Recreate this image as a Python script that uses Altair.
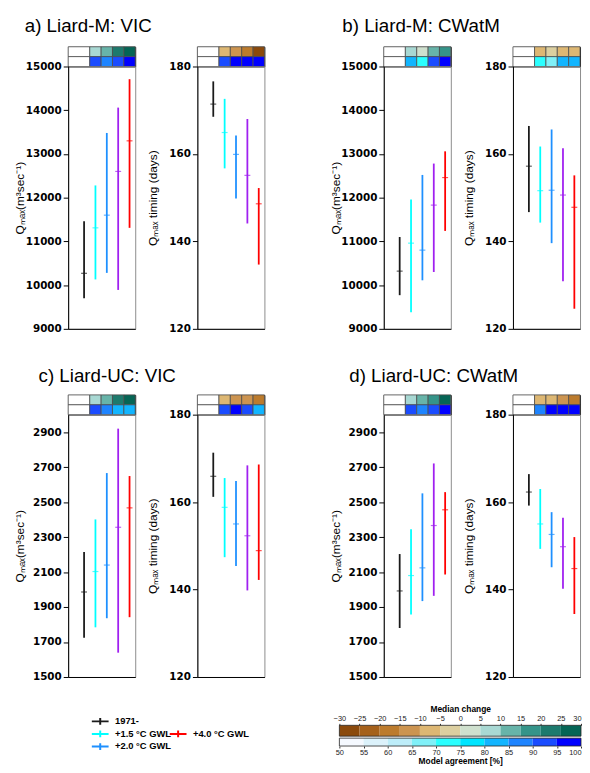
import altair as alt
import pandas as pd

FONT = "Liberation Sans"

series = ["1971-", "+1.5 °C GWL", "+2.0 °C GWL", "+3.0 °C GWL", "+4.0 °C GWL"]
series_colors = ["#1a1a1a", "#00FFFF", "#1E90FF", "#A020F0", "#FF0000"]
slots = [1, 2, 3, 4, 5]
x_domain = [-0.4, 5.5]

titles = ["a) Liard-M: VIC", "b) Liard-M: CWatM", "c) Liard-UC: VIC", "d) Liard-UC: CWatM"]
q_title = "Qₘₐₓ(m³sec⁻¹)"
t_title = "Qₘₐₓ timing (days)"

q_ticks_top = [9000, 10000, 11000, 12000, 13000, 14000, 15000]
q_ticks_bot = [1500, 1700, 1900, 2100, 2300, 2500, 2700, 2900]
t_ticks = [120, 140, 160, 180]

# panel a
a_q_med = [10270, 11310, 11600, 12600, 13300]
a_q_lo = [9700, 10130, 10280, 9890, 11310]
a_q_hi = [11460, 12280, 13480, 14060, 14710]
a_t_med = [171.4, 164.9, 159.9, 155.1, 148.6]
a_t_lo = [168.5, 156.7, 149.8, 144.1, 134.7]
a_t_hi = [176.6, 172.6, 164.2, 168.0, 152.2]
# panel b
b_q_med = [10320, 10960, 10800, 11830, 12460]
b_q_lo = [9770, 9380, 10110, 10300, 11240]
b_q_hi = [11100, 11960, 12520, 12780, 13060]
b_t_med = [157.2, 151.6, 151.7, 150.6, 147.8]
b_t_lo = [146.7, 144.3, 139.6, 130.9, 124.6]
b_t_hi = [166.4, 161.7, 165.6, 161.3, 155.1]
# panel c
c_q_med = [1986, 2103, 2140, 2356, 2467]
c_q_lo = [1724, 1784, 1836, 1639, 1842]
c_q_hi = [2214, 2401, 2666, 2920, 2649]
c_t_med = [165.9, 158.8, 155.0, 152.3, 148.9]
c_t_lo = [161.2, 147.4, 145.4, 139.8, 142.2]
c_t_hi = [171.3, 165.5, 164.8, 168.4, 168.6]
# panel d
d_q_med = [1992, 2080, 2124, 2366, 2456]
d_q_lo = [1780, 1857, 1934, 1964, 2086]
d_q_hi = [2203, 2345, 2550, 2721, 2557]
d_t_med = [162.3, 155.0, 152.6, 149.8, 144.8]
d_t_lo = [159.2, 149.3, 145.1, 140.2, 134.4]
d_t_hi = [166.4, 163.0, 157.7, 156.4, 152.0]

# header boxes: median change [%] and model agreement [%] for +1.5, +2, +3, +4
a_q_hmed = [7, 12, 22, 27]
a_q_hagr = [92, 87, 92, 97]
a_t_hmed = [-7, -12, -17, -27]
a_t_hagr = [92, 97, 97, 97]
b_q_hmed = [7, 2, 12, 17]
b_q_hagr = [82, 72, 92, 97]
b_t_hmed = [-7, -2, -7, -7]
b_t_hagr = [72, 67, 82, 82]
c_q_hmed = [7, 12, 22, 27]
c_q_hagr = [92, 87, 82, 82]
c_t_hmed = [-7, -12, -12, -17]
c_t_hagr = [92, 97, 92, 82]
d_q_hmed = [7, 12, 17, 27]
d_q_hagr = [92, 87, 92, 97]
d_t_hmed = [-7, -7, -12, -17]
d_t_hagr = [87, 97, 97, 97]

med_thresholds = [-25, -20, -15, -10, -5, 0, 5, 10, 15, 20, 25]
med_colors = ["#8B4A0C", "#A5611B", "#BC7B2D", "#CC9450", "#DDB773", "#DCCFA0",
              "#CFE0CE", "#A8D8D3", "#67B4A9", "#359489", "#1D7A6D", "#056555"]
agr_thresholds = [55, 60, 65, 70, 75, 80, 85, 90, 95]
agr_colors = ["#F5F9FF", "#DCF2FB", "#BDEDF9", "#80F0F8", "#2BFFFF",
              "#00E5FF", "#12B5FF", "#1E84FF", "#1A4CFF", "#0000FF"]
med_ticks = [-30, -25, -20, -15, -10, -5, 0, 5, 10, 15, 20, 25, 30]
agr_ticks = [50, 55, 60, 65, 70, 75, 80, 85, 90, 95, 100]

legend_labels = ["1971-", "+1.5 °C GWL", "+2.0 °C GWL", "+4.0 °C GWL"]
legend_colors = ["#1a1a1a", "#00FFFF", "#1E90FF", "#FF0000"]
legend_col = [0, 0, 0, 1]
legend_row = [0, 1, 2, 1]

med_scale = alt.Scale(type="threshold", domain=med_thresholds, range=med_colors)
agr_scale = alt.Scale(type="threshold", domain=agr_thresholds, range=agr_colors)

PW, PH, HH = 68, 266, 20
GAP_IN, GAP_MID = 63, 121
COLW = [PW, GAP_IN, PW, GAP_MID, PW, GAP_IN, PW]
CB_RANGE = [76, 321]   # colour bar placement inside the wide middle column


def spacer(w, h):
    return alt.Chart(pd.DataFrame({"v": [0]})).mark_point(opacity=0, size=1).encode(
        x=alt.X("v:Q", axis=None), y=alt.Y("v:Q", axis=None)
    ).properties(width=w, height=h, view=alt.ViewBackground(stroke=None))


def header(hmed, hagr, title=None, dx=0, off=0):
    hx0 = [s - 0.5 for s in slots[1:]]
    hx1 = [s + 0.5 for s in slots[1:]]
    hm = pd.DataFrame(dict(x0=hx0, x1=hx1, v=hmed, r0=0, r1=1))
    ha = pd.DataFrame(dict(x0=hx0, x1=hx1, v=hagr, r0=1, r1=2))
    hw = pd.DataFrame(dict(x0=[x_domain[0]] * 2, x1=[hx0[0]] * 2, r0=[0, 1], r1=[1, 2]))
    xs = alt.Scale(domain=x_domain, nice=False, zero=False)
    ys = alt.Scale(domain=[0, 2], reverse=True, nice=False, zero=False)
    enc = dict(x=alt.X("x0:Q", scale=xs, axis=None), x2="x1:Q",
               y=alt.Y("r0:Q", scale=ys, axis=None), y2="r1:Q")
    w = alt.Chart(hw).mark_rect(fill="white", stroke="#4d4d4d", strokeWidth=0.8).encode(**enc)
    m = alt.Chart(hm).mark_rect(stroke="#4d4d4d", strokeWidth=0.8).encode(
        color=alt.Color("v:Q", scale=med_scale, legend=None), **enc)
    a = alt.Chart(ha).mark_rect(stroke="#4d4d4d", strokeWidth=0.8).encode(
        color=alt.Color("v:Q", scale=agr_scale, legend=None), **enc)
    ch = alt.layer(w, m, a).resolve_scale(color="independent").properties(
        width=PW, height=HH, view=alt.ViewBackground(stroke="#222222", strokeWidth=1))
    if title:
        ch = ch.properties(title=alt.TitleParams(
            title, anchor="start", frame="group", dx=dx, offset=off, fontSize=19,
            font=FONT, fontWeight="normal", color="black", baseline="alphabetic"))
    return ch


def plot(med, lo, hi, dom, ticks, ytitle, ext):
    df = pd.DataFrame(dict(slot=slots, series=series, med=med, lo=lo, hi=hi))
    xs = alt.Scale(domain=x_domain, nice=False, zero=False)
    ys = alt.Scale(domain=dom, nice=False, zero=False)
    col = alt.Color("series:N", scale=alt.Scale(domain=series, range=series_colors), legend=None)
    xax = alt.Axis(labels=False, ticks=False, title=None, grid=False,
                   domainColor="black", domainWidth=1)
    yax = alt.Axis(values=ticks, tickCount=len(ticks) + 2, format="d", title=ytitle,
                   grid=False, tickSize=5, tickColor="black", domainColor="black",
                   domainWidth=1, labelFont="DejaVu Sans", labelFontWeight="bold",
                   labelFontSize=10.5, labelColor="black", labelPadding=2,
                   labelOverlap=False, labelFlush=False, titleFont=FONT, titleFontSize=12,
                   titleFontWeight="normal", titleColor="black", titlePadding=2,
                   minExtent=ext, maxExtent=ext)
    rules = alt.Chart(df).mark_rule(strokeWidth=1.8).encode(
        x=alt.X("slot:Q", scale=xs, axis=xax),
        y=alt.Y("lo:Q", scale=ys, axis=yax), y2="hi:Q", color=col)
    medt = alt.Chart(df).mark_tick(orient="horizontal", size=6, thickness=1.2).encode(
        x=alt.X("slot:Q", scale=xs, axis=xax), y=alt.Y("med:Q", scale=ys, axis=yax),
        color=col)
    return alt.layer(rules, medt).properties(
        width=PW, height=PH, view=alt.ViewBackground(stroke="#8c8c8c", strokeWidth=1))


def panel_row(items, h):
    l1, r1, l2, r2 = items
    return [l1, spacer(GAP_IN, h), r1, spacer(GAP_MID, h), l2, spacer(GAP_IN, h), r2]


row_h1 = panel_row([header(a_q_hmed, a_q_hagr, titles[0], -44, -4.5),
                    header(a_t_hmed, a_t_hagr),
                    header(b_q_hmed, b_q_hagr, titles[1], -42, -4.5),
                    header(b_t_hmed, b_t_hagr)], HH)
row_p1 = panel_row([plot(a_q_med, a_q_lo, a_q_hi, [9000, 15000], q_ticks_top, q_title, 40),
                    plot(a_t_med, a_t_lo, a_t_hi, [120, 180], t_ticks, t_title, 36),
                    plot(b_q_med, b_q_lo, b_q_hi, [9000, 15000], q_ticks_top, q_title, 40),
                    plot(b_t_med, b_t_lo, b_t_hi, [120, 180], t_ticks, t_title, 36)], PH)
row_h2 = panel_row([header(c_q_hmed, c_q_hagr, titles[2], -30, -6),
                    header(c_t_hmed, c_t_hagr),
                    header(d_q_hmed, d_q_hagr, titles[3], -35, -6),
                    header(d_t_hmed, d_t_hagr)], HH)
row_p2 = panel_row([plot(c_q_med, c_q_lo, c_q_hi, [1500, 3000], q_ticks_bot, q_title, 40),
                    plot(c_t_med, c_t_lo, c_t_hi, [120, 180], t_ticks, t_title, 36),
                    plot(d_q_med, d_q_lo, d_q_hi, [1500, 3000], q_ticks_bot, q_title, 40),
                    plot(d_t_med, d_t_lo, d_t_hi, [120, 180], t_ticks, t_title, 36)], PH)
row_s1 = [spacer(w, 67) for w in COLW]
row_s2 = [spacer(w, 49) for w in COLW]

# legend (first column, entries overflow to the right)
ldf = pd.DataFrame(dict(label=legend_labels, color=legend_colors, col=legend_col, row=legend_row))
lx = alt.Scale(domain=[-0.4114, 0.4494], nice=False, zero=False)
ly = alt.Scale(domain=[0.314, 1.176], reverse=True, nice=False, zero=False)
lcol = alt.Color("label:N", scale=alt.Scale(domain=legend_labels, range=legend_colors), legend=None)
lglyph = alt.Chart(ldf).mark_point(shape="M-1,0H1M0,-0.4V0.4", filled=False, strokeWidth=2,
                                   size=289, opacity=1).encode(
    x=alt.X("col:Q", scale=lx, axis=None), y=alt.Y("row:Q", scale=ly, axis=None), color=lcol)
ltext = alt.Chart(ldf).mark_text(align="left", dx=15, fontWeight="bold", fontSize=9.5,
                                 font=FONT, color="black").encode(
    x=alt.X("col:Q", scale=lx, axis=None), y=alt.Y("row:Q", scale=ly, axis=None), text="label:N")
legend = alt.layer(lglyph, ltext).properties(width=PW, height=11,
                                             view=alt.ViewBackground(stroke=None))

# colour bars
mlo = med_ticks[:-1]
mdf = pd.DataFrame(dict(lo=mlo, hi=med_ticks[1:], mid=[v + 2.5 for v in mlo]))
alo = agr_ticks[:-1]
adf = pd.DataFrame(dict(lo=alo, hi=agr_ticks[1:], mid=[v + 2.5 for v in alo]))


def colorbar(df, ticks, scale, orient, title, h, tpad):
    xs = alt.Scale(domain=[ticks[0], ticks[-1]], range=CB_RANGE, nice=False, zero=False)
    ax = alt.Axis(orient=orient, values=ticks, tickCount=len(ticks) + 2, title=title,
                  domain=False, tickSize=2, tickColor="#333", labelFontSize=7.5,
                  labelFont=FONT, labelColor="#222", labelPadding=0.5, labelOverlap=False,
                  labelAlign={"condition": {"test": f"datum.value == {ticks[-1]}",
                                            "value": "right"}, "value": "center"},
                  labelFlush=False,
                  titleFont=FONT, titleFontSize=8.5, titleFontWeight="bold",
                  titleColor="black", titlePadding=tpad, grid=False)
    cells = alt.Chart(df).mark_rect().encode(
        x=alt.X("lo:Q", scale=xs, axis=ax), x2="hi:Q",
        color=alt.Color("mid:Q", scale=scale, legend=None))
    frame = alt.Chart(pd.DataFrame({"lo": [ticks[0]], "hi": [ticks[-1]]})).mark_rect(
        fill=None, stroke="#222", strokeWidth=0.8).encode(
        x=alt.X("lo:Q", scale=xs, axis=ax), x2="hi:Q")
    return alt.layer(cells, frame).properties(width=GAP_MID, height=h,
                                              view=alt.ViewBackground(stroke=None))


cb_top = colorbar(mdf, med_ticks, med_scale, "top", "Median change", 11, 2)
cb_bot = colorbar(adf, agr_ticks, agr_scale, "bottom", "Model agreement [%]", 8, 1)

row_3a = [legend, spacer(GAP_IN, 11), spacer(PW, 11), cb_top,
          spacer(PW, 11), spacer(GAP_IN, 11), spacer(PW, 11)]
row_3b = [spacer(w, 2) for w in COLW]
row_3c = [spacer(PW, 8), spacer(GAP_IN, 8), spacer(PW, 8), cb_bot,
          spacer(PW, 8), spacer(GAP_IN, 8), spacer(PW, 8)]

items = row_h1 + row_p1 + row_s1 + row_h2 + row_p2 + row_s2 + row_3a + row_3b + row_3c

chart = alt.concat(*items, columns=7, spacing=0, bounds="flush", align="each").resolve_scale(
    color="independent", x="independent", y="independent"
).properties(padding={"left": 5, "top": 3, "right": 0, "bottom": 0}, background="white")

chart.save("out.html", embed_options={"renderer": "svg", "actions": False})
